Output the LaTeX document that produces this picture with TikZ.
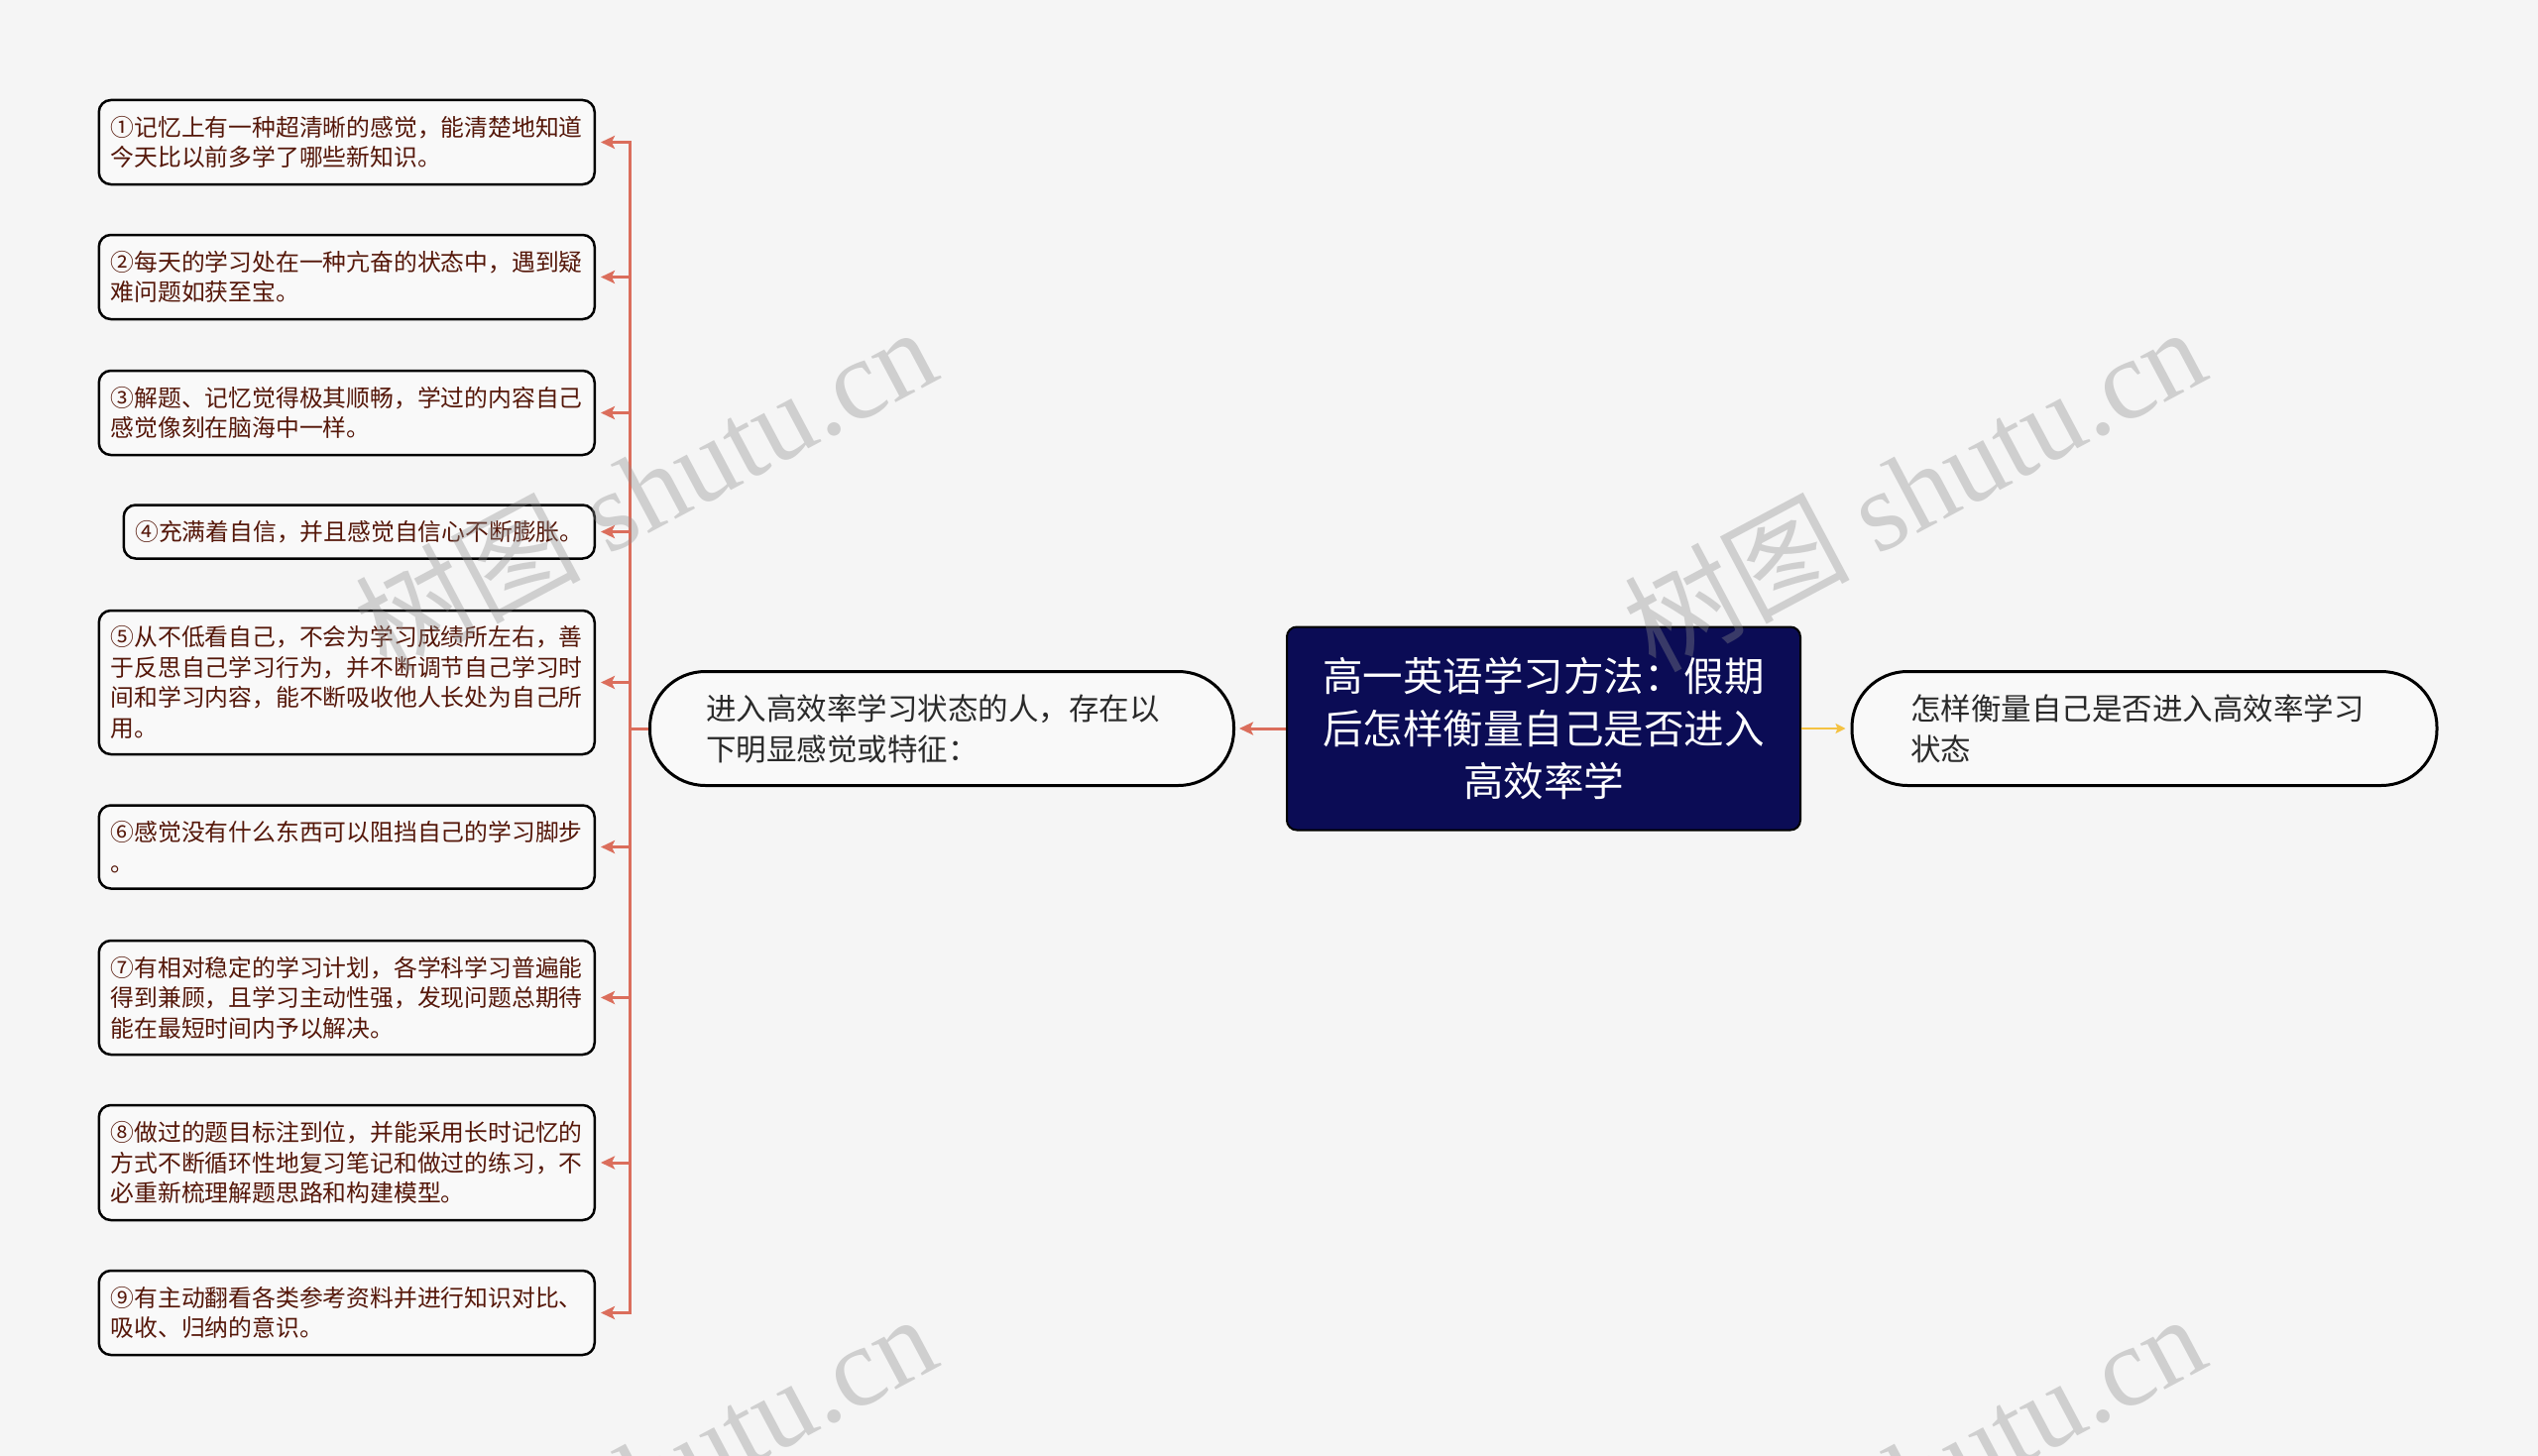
\documentclass[tikz,border=0pt]{standalone}
\usepackage{fontspec}
\setmainfont{Noto Sans CJK SC}
\newfontfamily\cjkfont{Noto Sans CJK SC}
\newfontfamily\wmserif{Liberation Serif}
\usetikzlibrary{arrows.meta}
\definecolor{bgcol}{HTML}{F5F5F5}
\definecolor{boxfill}{HTML}{F9F9F9}
\definecolor{leaftext}{HTML}{551709}
\definecolor{conncol}{HTML}{DB6E5C}
\definecolor{navy}{HTML}{0B0C55}
\definecolor{yelcol}{HTML}{F4C242}
\definecolor{sidetext}{HTML}{2A2A2A}
\begin{document}
\begin{tikzpicture}[x=1pt,y=-1pt,
  leaf/.style={draw=black, line width=2.5pt, fill=boxfill, rounded corners=12pt,
    text=leaftext, align=left, anchor=east, font=\fontsize{23.8}{30.5}\selectfont,
    inner xsep=12pt, inner ysep=0pt, text width=476pt},
  pill/.style={draw=black, line width=3pt, fill=boxfill, rounded corners=56pt,
    minimum height=115pt, text=sidetext, align=left, inner xsep=0pt,
    font=\fontsize{30.5}{41}\selectfont},
  central/.style={draw=black, line width=2pt, fill=navy, text=white, rounded corners=10pt,
    minimum width=518pt, minimum height=205pt, align=center, inner sep=0pt,
    font=\fontsize{40.5}{53}\selectfont},
  connline/.style={draw=conncol, line width=3pt},
  arr/.style={-{Stealth[length=14pt,width=13pt,inset=3pt]}},
  yelline/.style={draw=yelcol, line width=2.5pt, -{Stealth[length=10pt,width=10pt,inset=2pt]}},
  wm/.style={text=black!45, text opacity=0.36, font=\fontsize{114}{114}\selectfont, inner sep=0pt}
]
\fill[bgcol] (0,0) rectangle (2560,1469);
\useasboundingbox (0,0) rectangle (2560,1469);

% central and side nodes
\node[central] (C) at (1557,735) {高一英语学习方法：假期\\后怎样衡量自己是否进入\\高效率学};
\node[pill, minimum width=589pt, text width=476pt] (L) at (950,735) {进入高效率学习状态的人，存在以\\下明显感觉或特征：};
\node[pill, minimum width=590pt, text width=472pt] (R) at (2163,735) {怎样衡量自己是否进入高效率学习\\状态};

% leaf nodes
\node[leaf, minimum height=85pt] (b1) at (601,143.5) {①记忆上有一种超清晰的感觉，能清楚地知道\\今天比以前多学了哪些新知识。};
\node[leaf, minimum height=85pt] (b2) at (601,279.5) {②每天的学习处在一种亢奋的状态中，遇到疑\\难问题如获至宝。};
\node[leaf, minimum height=85pt] (b3) at (601,416.5) {③解题、记忆觉得极其顺畅，学过的内容自己\\感觉像刻在脑海中一样。};
\node[leaf, minimum height=54pt, text width=452pt, inner xsep=11.5pt] (b4) at (601,536.5) {④充满着自信，并且感觉自信心不断膨胀。};
\node[leaf, minimum height=145pt] (b5) at (601,688.5) {⑤从不低看自己，不会为学习成绩所左右，善\\于反思自己学习行为，并不断调节自己学习时\\间和学习内容，能不断吸收他人长处为自己所\\用。};
\node[leaf, minimum height=84pt] (b6) at (601,854.5) {⑥感觉没有什么东西可以阻挡自己的学习脚步\\。};
\node[leaf, minimum height=115pt] (b7) at (601,1006.5) {⑦有相对稳定的学习计划，各学科学习普遍能\\得到兼顾，且学习主动性强，发现问题总期待\\能在最短时间内予以解决。};
\node[leaf, minimum height=116pt] (b8) at (601,1173) {⑧做过的题目标注到位，并能采用长时记忆的\\方式不断循环性地复习笔记和做过的练习，不\\必重新梳理解题思路和构建模型。};
\node[leaf, minimum height=85pt] (b9) at (601,1324.5) {⑨有主动翻看各类参考资料并进行知识对比、\\吸收、归纳的意识。};

% connectors
\coordinate (tr) at (635,735);
\draw[connline] (L.west) -- (tr);
\foreach \i in {1,...,9} {
  \draw[connline, arr, shorten >=5pt] (tr) |- (b\i.east);
}
\draw[connline, arr, shorten >=4pt] (C.west) -- (L.east);
\draw[yelline, shorten >=5pt] (C.east) -- (R.west);

% watermarks
\begin{scope}
\clip (0,0) rectangle (2560,1469);
\node[wm, rotate=28] (w1) at (650,492) {{\cjkfont 树图} {\wmserif shutu.cn}};
\node[wm, rotate=28] (w2) at (1930,492) {{\cjkfont 树图} {\wmserif shutu.cn}};
\node[wm, rotate=28] (w3) at (650,1488) {{\cjkfont 树图} {\wmserif shutu.cn}};
\node[wm, rotate=28] (w4) at (1930,1488) {{\cjkfont 树图} {\wmserif shutu.cn}};
\end{scope}
\end{tikzpicture}
\end{document}
